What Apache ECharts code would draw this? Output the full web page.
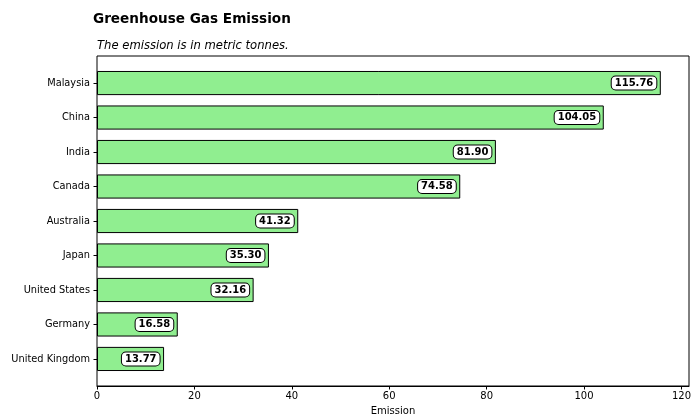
<!DOCTYPE html>
<html><head><meta charset="utf-8">
<script src="https://cdn.jsdelivr.net/npm/echarts@6/dist/echarts.min.js"></script>
<style>html,body{margin:0;padding:0;background:#fff}#c{width:692px;height:417px}</style>
</head><body><div id="c"></div>
<script>
const countries = ["Malaysia","China","India","Canada","Australia","Japan","United States","Germany","United Kingdom"];
const emissions = [115.76,104.05,81.90,74.58,41.32,35.30,32.16,16.58,13.77];
const xTicks = [0,20,40,60,80,100,120];
const xMax = 121.548;

const font = "DejaVu Sans";
const chart = echarts.init(document.getElementById('c'), null, {renderer:'canvas'});
chart.setOption({
  animation:false,
  textStyle:{fontFamily:font},
  title:[
    {text:"Greenhouse Gas Emission", left:88, top:7,
     textStyle:{fontFamily:font,fontSize:13.6,fontWeight:'bold',color:'#000'}},
    {text:"The emission is in metric tonnes.", left:92, top:35,
     textStyle:{fontFamily:font,fontSize:11.6,fontStyle:'italic',fontWeight:'normal',color:'#000'}}
  ],
  grid:[
    {left:97, right:3, top:56, bottom:31, show:true, borderColor:'#000', borderWidth:1,
     backgroundColor:'transparent', containLabel:false, outerBoundsMode:'none'},
    {left:97, right:3, top:65.8, bottom:40.8, containLabel:false, outerBoundsMode:'none'}
  ],
  xAxis:[
    {type:'value', gridIndex:0, min:0, max:xMax, interval:20,
     name:'Emission', nameLocation:'middle', nameGap:20,
     nameTextStyle:{fontFamily:font,fontSize:10,color:'#000'},
     axisLine:{show:true,lineStyle:{color:'#000'}},
     axisTick:{show:true,length:3.5,lineStyle:{color:'#000'},customValues:xTicks},
     axisLabel:{fontFamily:font,fontSize:10,color:'#000',margin:5,customValues:xTicks},
     splitLine:{show:false}},
    {type:'value', gridIndex:1, min:0, max:xMax, show:false}
  ],
  yAxis:[
    {type:'value', gridIndex:0, show:false},
    {type:'category', gridIndex:1, data:countries, inverse:true,
     axisLine:{show:false},
     axisTick:{show:true,alignWithLabel:true,length:3.5,lineStyle:{color:'#000'}},
     axisLabel:{fontFamily:font,fontSize:9.8,color:'#000',margin:7}}
  ],
  series:[{
    type:'bar', xAxisIndex:1, yAxisIndex:1, data:emissions, barWidth:'70%',
    itemStyle:{color:'#90EE90', borderColor:'#000', borderWidth:1},
    label:{show:true, position:'insideRight', distance:4.5,
      formatter:p=>p.value.toFixed(2),
      fontFamily:font, fontSize:10, fontWeight:'bold', color:'#000',
      backgroundColor:'#fff', borderColor:'#000', borderWidth:1, borderRadius:4,
      padding:[2,3,1,3]}
  }]
});
</script></body></html>
